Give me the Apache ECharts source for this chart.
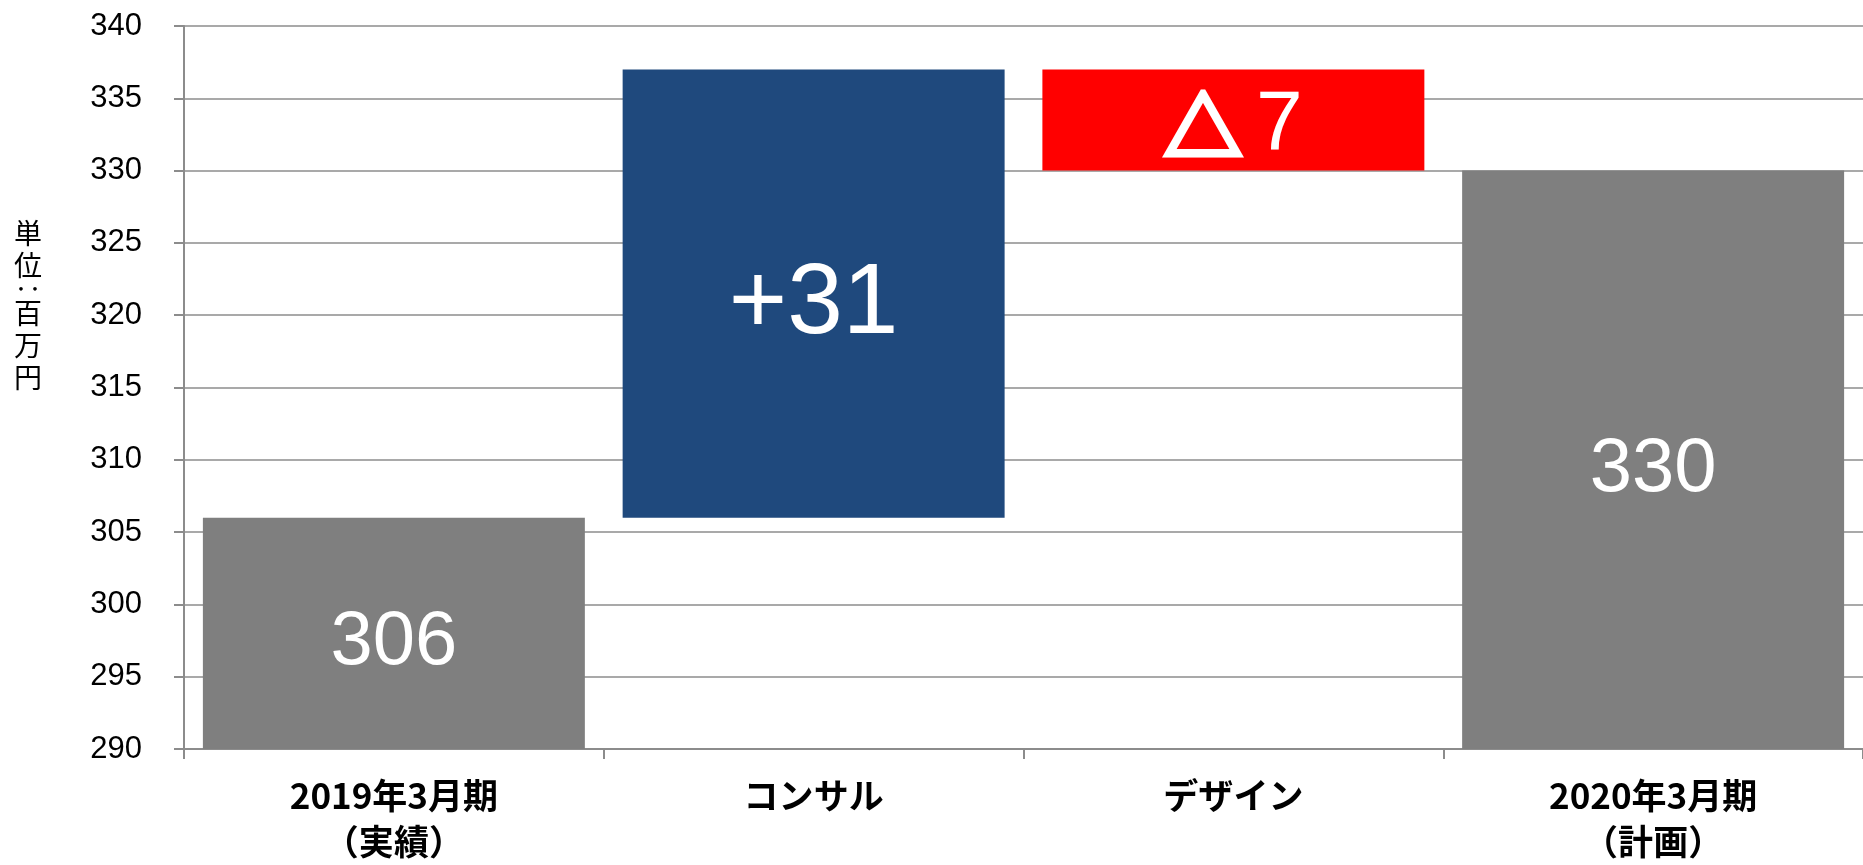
<!DOCTYPE html>
<html>
<head>
<meta charset="utf-8">
<script src="https://cdn.jsdelivr.net/npm/echarts@6/dist/echarts.min.js"></script>
<style>
  html, body { margin: 0; padding: 0; background: #fff; }
  #chart { width: 1863px; height: 865px; }
</style>
</head>
<body>
<div id="chart"></div>
<script>
// Waterfall: FY2019 actual -> consulting (+) -> design (−) -> FY2020 plan
const categories = ['2019年3月期\n（実績）', 'コンサル', 'デザイン', '2020年3月期\n（計画）'];
const totals   = [306, '-', '-', 330];
const increase = ['-', 31, '-', '-'];
const decrease = ['-', '-', 7, '-'];

// Invisible base under each floating step, taken from the running total
const base = [];
let running = 0;
for (let i = 0; i < categories.length; i++) {
  if (typeof totals[i] === 'number') {
    running = totals[i];
    base.push('-');
  } else if (typeof increase[i] === 'number') {
    base.push(running);
    running += increase[i];
  } else {
    running -= decrease[i];
    base.push(running);
  }
}

const GRID_GRAY = '#8c8c8c';
const NUM_FONT = '"Liberation Sans", Arial, "Noto Sans CJK JP", sans-serif';
const CJK_FONT = '"Noto Sans CJK JP", sans-serif';

const chart = echarts.init(document.getElementById('chart'), null, { renderer: 'canvas' });
chart.setOption({
  animation: false,
  backgroundColor: '#ffffff',
  grid: { left: 184, right: -5, top: 26, bottom: 112 },
  xAxis: {
    type: 'category',
    data: categories,
    boundaryGap: true,
    axisLine: { lineStyle: { color: GRID_GRAY, width: 2 } },
    axisTick: { show: true, length: 10, lineStyle: { color: GRID_GRAY, width: 2 } },
    axisLabel: {
      interval: 0,
      margin: 24,
      color: '#000',
      fontFamily: CJK_FONT,
      fontWeight: 'bold',
      fontSize: 35,
      lineHeight: 46
    }
  },
  yAxis: {
    type: 'value',
    min: 290,
    max: 340,
    interval: 5,
    axisLine: { show: true, lineStyle: { color: GRID_GRAY, width: 2 } },
    axisTick: { show: true, length: 10, lineStyle: { color: GRID_GRAY, width: 2 } },
    splitLine: { show: true, lineStyle: { color: GRID_GRAY, width: 1.5 } },
    axisLabel: {
      margin: 42,
      color: '#000',
      fontFamily: NUM_FONT,
      fontSize: 31
    }
  },
  graphic: [{
    type: 'text',
    left: 14,
    top: 219,
    style: {
      text: '{c|単}\n{c|位}\n{d|‥}\n{c|百}\n{c|万}\n{c|円}',
      rich: {
        c: { fontFamily: CJK_FONT, fontSize: 28, lineHeight: 32, fill: '#000' },
        d: { fontFamily: CJK_FONT, fontSize: 28, lineHeight: 16, fill: '#000' }
      },
      fill: '#000'
    }
  }],
  series: [
    {
      name: 'base',
      type: 'bar',
      stack: 'wf',
      barWidth: '91%',
      data: base,
      itemStyle: { color: 'transparent' },
      emphasis: { disabled: true },
      silent: true
    },
    {
      name: 'total',
      type: 'bar',
      stack: 'wf',
      barWidth: '91%',
      data: totals,
      itemStyle: { color: '#7f7f7f' },
      label: {
        show: true,
        position: 'inside',
        offset: [0, 10],
        color: '#fff',
        fontFamily: NUM_FONT,
        fontSize: 76,
        formatter: p => String(p.value)
      }
    },
    {
      name: 'increase',
      type: 'bar',
      stack: 'wf',
      barWidth: '91%',
      data: increase,
      itemStyle: { color: '#1f497d' },
      label: {
        show: true,
        position: 'inside',
        offset: [0, 12],
        color: '#fff',
        fontFamily: NUM_FONT,
        fontSize: 100,
        formatter: p => '+' + p.value
      }
    },
    {
      name: 'decrease',
      type: 'bar',
      stack: 'wf',
      barWidth: '91%',
      data: decrease,
      itemStyle: { color: '#ff0000' },
      label: {
        show: true,
        position: 'inside',
        offset: [0, 6],
        formatter: p => '{t|△}{n|' + p.value + '}',
        rich: {
          t: {
            fontFamily: CJK_FONT, fontWeight: 'bold', fontSize: 78, color: '#fff',
            textBorderColor: '#fff', textBorderWidth: 5, padding: [0, 14, 0, 0]
          },
          n: { fontFamily: NUM_FONT, fontSize: 84, color: '#fff' }
        }
      }
    }
  ]
});
</script>
</body>
</html>
